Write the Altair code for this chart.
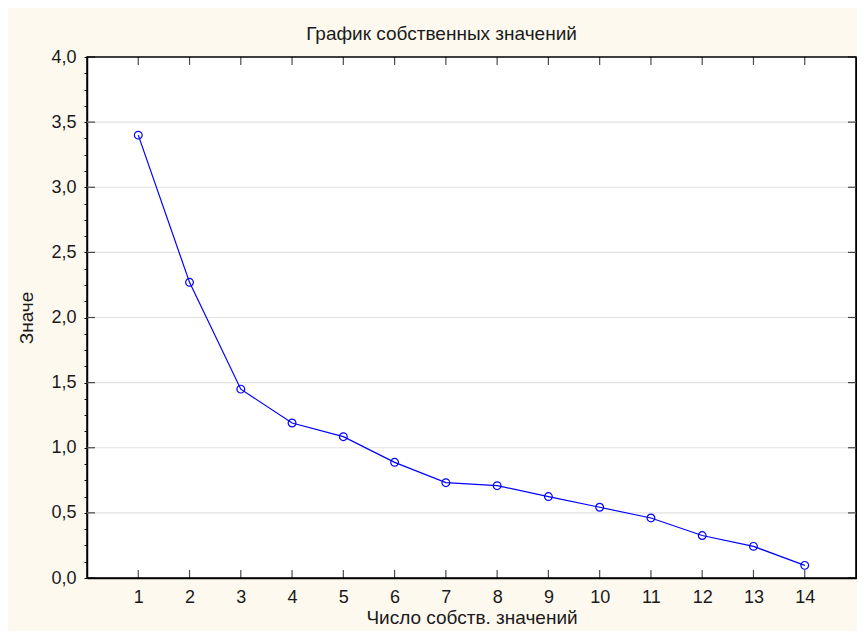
import altair as alt
import pandas as pd

# data
components = list(range(1, 15))
eigenvalues = [3.40, 2.27, 1.45, 1.19, 1.085, 0.888, 0.732, 0.709, 0.625, 0.543, 0.461, 0.326, 0.243, 0.097]
x_ticks = list(range(1, 15))
y_major = [0.0, 0.5, 1.0, 1.5, 2.0, 2.5, 3.0, 3.5, 4.0]
y_grid = [0.5, 1.0, 1.5, 2.0, 2.5, 3.0, 3.5]
y_minor = [i * 0.125 for i in range(33)]

title_text = "График собственных значений"
x_title = "Число собств. значений"
y_title = "Значе"

FONT = "Liberation Sans"
TXT = "#1a1a1a"
BG = "#FDF9EF"
W, H = 769, 521

df = pd.DataFrame({"x": components, "y": eigenvalues})
grid_df = pd.DataFrame({"y": y_grid})
xt_df = pd.DataFrame({"x": x_ticks, "bottom": [0.0] * len(x_ticks), "top": [4.0] * len(x_ticks)})
yt_df = pd.DataFrame({"y": y_major, "left": [0.0] * len(y_major), "right": [15.0] * len(y_major)})

xscale = alt.Scale(domain=[0, 15], nice=False, zero=False)
yscale = alt.Scale(domain=[0, 4], nice=False, zero=False)

label_expr = "datum.value % 0.5 === 0 ? replace(format(datum.value, '.1f'), '.', ',') : ''"

grid = alt.Chart(grid_df).mark_rule(color="#E2E2E2", strokeWidth=1.2).encode(
    x=alt.value(0),
    x2=alt.value(W),
    y=alt.Y("y:Q", scale=yscale,
            axis=alt.Axis(orient="right", values=y_minor, labels=False, title=None,
                          tickSize=3, tickColor="black", domainColor="black",
                          domainWidth=1.5, grid=False)),
)

line = alt.Chart(df).mark_line(color="#0000FF", strokeWidth=1.2).encode(
    x=alt.X("x:Q", scale=xscale,
            axis=alt.Axis(values=x_ticks, title=x_title, ticks=False, grid=False,
                          labelPadding=10, titlePadding=2, domainColor="black",
                          domainWidth=1.5, format="d")),
    y=alt.Y("y:Q", scale=yscale,
            axis=alt.Axis(values=y_minor, labelExpr=label_expr, title=y_title, tickSize=3,
                          tickColor="black", domainColor="black", domainWidth=1.5,
                          labelPadding=8, titlePadding=14, grid=False)),
)

points = alt.Chart(df).mark_point(color="#0000FF", filled=False, size=60, strokeWidth=1.2, opacity=1).encode(
    x=alt.X("x:Q", scale=xscale),
    y=alt.Y("y:Q", scale=yscale, axis=None),
)

tick_bottom = alt.Chart(xt_df).mark_tick(orient="vertical", size=8, thickness=1.2, color="black", yOffset=-4).encode(
    x=alt.X("x:Q", scale=xscale), y=alt.Y("bottom:Q", scale=yscale, axis=None))
tick_top = alt.Chart(xt_df).mark_tick(orient="vertical", size=8, thickness=1.2, color="black", yOffset=4).encode(
    x=alt.X("x:Q", scale=xscale), y=alt.Y("top:Q", scale=yscale, axis=None))
tick_left = alt.Chart(yt_df).mark_tick(orient="horizontal", size=8, thickness=1.2, color="black", xOffset=4).encode(
    x=alt.X("left:Q", scale=xscale), y=alt.Y("y:Q", scale=yscale, axis=None))
tick_right = alt.Chart(yt_df).mark_tick(orient="horizontal", size=8, thickness=1.2, color="black", xOffset=-4).encode(
    x=alt.X("right:Q", scale=xscale), y=alt.Y("y:Q", scale=yscale, axis=None))

chart = alt.layer(grid, line, points, tick_bottom, tick_top, tick_left, tick_right).resolve_axis(
    y="independent"
).properties(
    width=W,
    height=H,
    title=alt.TitleParams(title_text, font=FONT, fontSize=19, fontWeight="normal", color=TXT,
                          anchor="middle", dx=-30, offset=4),
    autosize=alt.AutoSizeParams(type="none"),
    padding={"left": 79, "top": 49, "right": 1, "bottom": 53},
).configure(
    background=BG,
).configure_view(
    fill="white", stroke="black", strokeWidth=1.5,
).configure_axis(
    labelFont=FONT, titleFont=FONT, labelFontSize=18, titleFontSize=19,
    labelColor=TXT, titleColor=TXT, titleFontWeight="normal",
)

chart.save("out.html", embed_options={"renderer": "svg", "actions": False})
